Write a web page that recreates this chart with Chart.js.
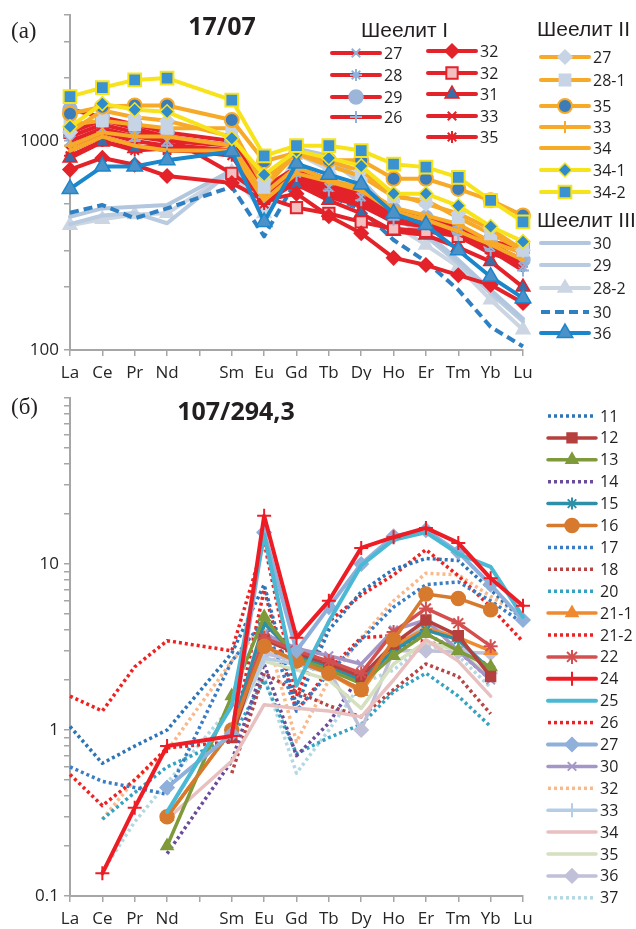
<!DOCTYPE html>
<html>
<head>
<meta charset="utf-8">
<script src="https://cdn.jsdelivr.net/npm/chart.js@4.4.1/dist/chart.umd.min.js"></script>
<style>
  body { margin: 0; background: #fff; width: 636px; height: 929px; position: relative; overflow: hidden; }
  canvas { position: absolute; left: 0; }
  #topChart { top: 0; }
  #botChart { top: 380px; }
</style>
</head>
<body>
<canvas id="topChart" width="636" height="380" style="width:636px;height:380px"></canvas>
<canvas id="botChart" width="636" height="549" style="width:636px;height:549px"></canvas>
<script>
// REE axis, the blank slot is Pm (no data)
var categories = ['La', 'Ce', 'Pr', 'Nd', '', 'Sm', 'Eu', 'Gd', 'Tb', 'Dy', 'Ho', 'Er', 'Tm', 'Yb', 'Lu'];
var topTicks = [100, 200, 300, 500, 1000, 2000, 3000, 4000];
var topTickLabels = ['100', '', '', '', '1000', '', '', ''];
var botTicks = [0.1, 0.2, 0.3, 0.4, 0.5, 0.6, 0.7, 0.8, 0.9, 1, 2, 3, 4, 5, 6, 7, 8, 9, 10, 20, 30, 40, 50, 60, 70, 80, 90, 100];
var botTickLabels = ['0.1', '', '', '', '', '', '', '', '', '1', '', '', '', '', '', '', '', '', '10', '', '', '', '', '', '', '', '', ''];

// (a) 17/07   values La Ce Pr Nd Sm Eu Gd Tb Dy Ho Er Tm Yb Lu
// Шеелит I
var s1_27  = [1000, 1150, 1050, 1000, 950, 560, 700, 600, 540, 440, 420, 370, 310, 250];
var s1_28  = [1050, 1200, 1100, 1050, 950, 580, 720, 620, 560, 450, 430, 390, 330, 260];
var s1_29  = [1420, 1300, 1200, 1100, 1000, 600, 750, 650, 580, 470, 430, 380, 320, 270];
var s1_26  = [950, 1100, 1000, 950, 900, 540, 680, 580, 520, 420, 400, 360, 300, 240];
var s1_32a = [730, 830, 770, 680, 630, 520, 560, 437, 362, 276, 255, 228, 205, 168];
var s1_32b = [1100, 1260, 1150, 1050, 700, 540, 480, 450, 410, 380, 370, 350, 330, 310];
var s1_31  = [830, 990, 920, 960, 900, 540, 620, 520, 450, 370, 355, 310, 265, 200];
var s1_33  = [900, 1050, 950, 900, 880, 520, 660, 560, 500, 410, 400, 360, 300, 260];
var s1_35  = [850, 1000, 900, 920, 850, 500, 640, 540, 490, 410, 390, 350, 290, 260];
// Шеелит II
var s2_27  = [1100, 1400, 1300, 1250, 1050, 650, 880, 800, 720, 560, 500, 450, 380, 300];
var s2_281 = [1200, 1250, 1200, 1150, 1150, 600, 870, 760, 680, 540, 520, 430, 360, 300];
var s2_35  = [1350, 1460, 1480, 1480, 1260, 800, 880, 810, 810, 660, 660, 590, 520, 440];
var s2_33  = [950, 1100, 1050, 1050, 950, 560, 750, 650, 600, 480, 440, 400, 330, 290];
var s2_34  = [900, 1050, 950, 900, 900, 520, 700, 640, 580, 460, 420, 370, 320, 270];
var s2_341 = [1170, 1510, 1410, 1380, 1030, 690, 900, 830, 760, 560, 560, 490, 390, 330];
var s2_342 = [1630, 1800, 1960, 2000, 1570, 850, 950, 950, 900, 775, 750, 670, 520, 410];
// Шеелит III
var s3_30a = [434, 476, 485, 494, 725, 650, 920, 850, 650, 450, 362, 270, 194, 141];
var s3_29  = [400, 440, 452, 404, 720, 600, 900, 810, 630, 435, 350, 260, 187, 137];
var s3_282 = [395, 422, 445, 451, 710, 450, 870, 730, 520, 400, 318, 250, 174, 125];
var s3_30b = [454, 494, 427, 476, 604, 350, 650, 550, 470, 336, 265, 194, 129, 104];
var s3_36  = [590, 755, 755, 810, 890, 410, 780, 690, 620, 450, 396, 300, 224, 177];

// (б) 107/294,3
var b11  = [1.05, 0.63, 0.8, 1.0, 2.9, 7.5, 1.4, 4.0, 6.8, 9.3, 10.8, 10.5, 7.0, 4.6];
var b12  = [null, null, null, null, 0.9, 3.5, 2.9, 2.5, 2.1, 3.3, 4.6, 3.7, 2.1, null];
var b13  = [null, null, null, 0.2, 1.6, 4.8, 2.7, 2.3, 1.9, 2.8, 3.8, 3.0, 2.4, null];
var b14  = [null, null, null, 0.18, 0.65, 2.5, 0.7, 1.1, 2.2, 3.0, 3.8, 3.0, 2.0, null];
var b15  = [null, null, null, null, 1.0, 4.4, 2.8, 2.4, 2.0, 3.0, 4.0, 3.5, 2.3, null];
var b16  = [null, null, null, 0.3, 1.0, 3.2, 2.6, 2.2, 1.75, 3.5, 6.6, 6.2, 5.3, null];
var b17  = [0.6, 0.49, 0.45, 0.41, 2.6, 4.6, 1.3, 2.2, 3.5, 5.5, 7.5, 7.8, 6.0, 4.4];
var b18  = [null, null, null, null, 0.55, 2.2, 1.7, 1.4, 1.2, 1.75, 2.5, 2.1, 1.25, null];
var b20  = [null, 0.29, 0.42, 0.6, 0.9, 2.0, 0.72, 0.9, 1.08, 1.7, 2.2, 1.6, 1.05, null];
var b211 = [null, null, null, 0.3, 1.0, 3.2, 2.6, 2.2, 1.7, 3.2, 4.1, 3.6, 3.0, null];
var b212 = [0.54, 0.35, 0.5, 0.78, 0.85, 7.0, 1.3, 2.3, 3.6, 3.7, 3.4, 3.1, 2.4, null];
var b22  = [null, null, null, null, 0.95, 3.6, 3.0, 2.6, 2.2, 3.9, 5.4, 4.4, 3.2, null];
var b24  = [null, 0.137, 0.34, 0.8, 0.92, 19.5, 3.6, 6.0, 12.5, 14.5, 16.5, 13.4, 8.2, 5.6];
var b25  = [null, null, null, 0.32, 1.4, 15, 1.85, 4.5, 9.8, 14, 15.5, 11.5, 9.6, 4.8];
var b26  = [1.6, 1.3, 2.4, 3.45, 3.0, 13.5, 1.6, 4.5, 6.5, 8.6, 12.2, 8.5, 5.5, 3.4];
var b27  = [null, null, null, 0.45, 0.95, 15.5, 3.0, 5.5, 10, 14.7, 16, 11.8, 7.5, 4.6];
var b30  = [null, null, null, null, 1.0, 3.8, 3.1, 2.8, 2.5, 4.0, 4.6, 3.0, 2.0, null];
var b32  = [null, 0.29, 0.5, 0.75, 2.6, 4.3, 0.85, 2.0, 3.6, 6.0, 8.8, 8.6, 6.4, 4.8];
var b33  = [null, null, null, null, 1.0, 2.7, 2.5, 2.2, 2.0, 3.0, 4.5, 3.4, 2.2, null];
var b34  = [null, null, null, 0.29, 0.65, 1.42, 1.35, 1.3, 1.2, 2.0, 3.5, 2.6, 1.6, null];
var b35  = [null, null, null, null, 1.0, 2.6, 2.3, 2.0, 1.35, 2.5, 3.4, 3.0, 2.1, null];
var b36  = [null, null, null, null, 1.0, 2.9, 2.6, 2.3, 1.0, 3.0, 3.0, 2.95, 2.9, null];
var b37  = [null, 0.14, 0.28, 0.48, 1.4, 2.1, 0.55, 1.0, 1.9, 2.3, 3.3, 2.8, 1.8, null];

// put the empty Pm slot in
function withGap(v) {
  return v.slice(0, 4).concat([null], v.slice(4));
}

function series(label, data, color, o) {
  o = o || {};
  return {
    label: label,
    data: withGap(data),
    borderColor: color,
    backgroundColor: color,
    borderWidth: o.w || 4,
    borderDash: o.dash || [],
    borderCapStyle: o.dash ? 'butt' : 'round',
    borderJoinStyle: 'round',
    pointStyle: o.pt || 'circle',
    pointRadius: o.pt ? (o.r || 6) : 0,
    pointBackgroundColor: o.fill || color,
    pointBorderColor: o.stroke || o.fill || color,
    pointBorderWidth: o.bw || 1.5,
    order: o.order || 5,
    spanGaps: true,
    tension: 0,
    clip: false
  };
}

var RED = '#E3222A', ORG = '#F7A928', YEL = '#F7E31C', LB = '#93B2DA';

var topData = [
  series('27', s1_27, RED, { pt: 'crossRot', stroke: LB, bw: 2, r: 6, order: 6 }),
  series('28', s1_28, RED, { pt: 'star', stroke: LB, bw: 2, r: 6, order: 6 }),
  series('29', s1_29, RED, { pt: 'circle', fill: '#9CB6DA', r: 7, order: 6 }),
  series('26', s1_26, RED, { pt: 'cross', stroke: LB, bw: 2, r: 6, order: 6 }),
  series('32', s1_32a, RED, { pt: 'rectRot', fill: RED, r: 7, order: 6 }),
  series('32', s1_32b, RED, { pt: 'rect', fill: '#F3BFC0', stroke: RED, bw: 2, r: 8, order: 6 }),
  series('31', s1_31, RED, { pt: 'triangle', fill: '#3B6DA6', stroke: RED, bw: 1.5, r: 8, order: 6 }),
  series('33', s1_33, RED, { pt: 'crossRot', stroke: RED, bw: 2, r: 6, order: 6 }),
  series('35', s1_35, RED, { pt: 'star', stroke: RED, bw: 2, r: 6, order: 6 }),

  series('27', s2_27, ORG, { pt: 'rectRot', fill: '#C7D4E6', r: 7, order: 5 }),
  series('28-1', s2_281, ORG, { pt: 'rect', fill: '#C7D4E6', r: 8, order: 5 }),
  series('35', s2_35, ORG, { pt: 'circle', fill: '#3B7CBB', stroke: ORG, bw: 2, r: 7, order: 4 }),
  series('33', s2_33, ORG, { pt: 'cross', stroke: ORG, bw: 2, r: 6, order: 5 }),
  series('34', s2_34, ORG, { order: 5 }),
  series('34-1', s2_341, YEL, { pt: 'rectRot', fill: '#2F8BCB', stroke: YEL, bw: 1.5, r: 7, order: 3 }),
  series('34-2', s2_342, YEL, { pt: 'rect', fill: '#3B92D0', stroke: YEL, bw: 2, r: 9, order: 2 }),

  series('30', s3_30a, '#B2C6DE', { order: 9 }),
  series('29', s3_29, '#B9CBE0', { order: 9 }),
  series('28-2', s3_282, '#CCD6E3', { pt: 'triangle', fill: '#CCD6E3', r: 8, order: 9 }),
  series('30', s3_30b, '#2F80C2', { dash: [9, 5], order: 7 }),
  series('36', s3_36, '#1A86CB', { pt: 'triangle', fill: '#4C92C9', stroke: '#1A86CB', bw: 1.5, r: 9, order: 3 })
];

var DOT = [3, 3];
var botData = [
  series('11', b11, '#2E75B6', { dash: DOT, w: 3.5, order: 8 }),
  series('12', b12, '#B5403D', { pt: 'rect', r: 7, w: 3.5, order: 6 }),
  series('13', b13, '#7F9A3A', { pt: 'triangle', r: 7, w: 3.5, order: 6 }),
  series('14', b14, '#6B4C9A', { dash: DOT, w: 3.5, order: 8 }),
  series('15', b15, '#2E8FA8', { pt: 'star', bw: 2, r: 6, w: 3.5, order: 6 }),
  series('16', b16, '#D77A2D', { pt: 'circle', r: 7, w: 3.5, order: 5 }),
  series('17', b17, '#3A7DC4', { dash: DOT, w: 3.5, order: 8 }),
  series('18', b18, '#B84545', { dash: DOT, w: 3.5, order: 8 }),
  series('20', b20, '#35A3C0', { dash: DOT, w: 3.5, order: 8 }),
  series('21-1', b211, '#F08A30', { pt: 'triangle', r: 7, w: 3.5, order: 6 }),
  series('21-2', b212, '#EE2222', { dash: DOT, w: 3.5, order: 8 }),
  series('22', b22, '#D45050', { pt: 'star', bw: 2, r: 7, w: 3.5, order: 5 }),
  series('24', b24, '#EE1C24', { pt: 'cross', bw: 2, r: 7, w: 4, order: 2 }),
  series('25', b25, '#4BB8D4', { w: 4, order: 3 }),
  series('26', b26, '#EE2222', { dash: DOT, w: 3.5, order: 8 }),
  series('27', b27, '#8FB0DA', { pt: 'rectRot', r: 7, w: 4, order: 3 }),
  series('30', b30, '#A596C8', { pt: 'crossRot', bw: 2, r: 6, w: 3.5, order: 6 }),
  series('32', b32, '#F9B98A', { dash: DOT, w: 3.5, order: 8 }),
  series('33', b33, '#B5CDE5', { pt: 'cross', bw: 2, r: 7, w: 3.5, order: 6 }),
  series('34', b34, '#E8C0C0', { w: 3.5, order: 6 }),
  series('35', b35, '#D4E0BE', { w: 3.5, order: 6 }),
  series('36', b36, '#C0C0D8', { pt: 'rectRot', r: 7, w: 3.5, order: 6 }),
  series('37', b37, '#B3D8E3', { dash: DOT, w: 3.5, order: 8 })
];

// same shapes as chart.js point styles, for the legend samples
function drawMarker(ctx, ds, x, y) {
  var r = ds.pointRadius, s, c;
  if (!r) return;
  ctx.save();
  ctx.setLineDash([]);
  ctx.fillStyle = ds.pointBackgroundColor;
  ctx.strokeStyle = ds.pointBorderColor;
  ctx.lineWidth = ds.pointBorderWidth;
  ctx.beginPath();
  switch (ds.pointStyle) {
    case 'circle':
      ctx.arc(x, y, r, 0, Math.PI * 2);
      break;
    case 'rect':
      s = r * Math.SQRT1_2;
      ctx.rect(x - s, y - s, 2 * s, 2 * s);
      break;
    case 'rectRot':
      ctx.moveTo(x - r, y); ctx.lineTo(x, y - r); ctx.lineTo(x + r, y); ctx.lineTo(x, y + r); ctx.closePath();
      break;
    case 'triangle':
      ctx.moveTo(x, y - r);
      ctx.lineTo(x + r * 0.866, y + r * 0.5);
      ctx.lineTo(x - r * 0.866, y + r * 0.5);
      ctx.closePath();
      break;
    case 'cross':
    case 'crossRot':
    case 'star':
      c = r * Math.SQRT1_2;
      if (ds.pointStyle !== 'crossRot') {
        ctx.moveTo(x, y - r); ctx.lineTo(x, y + r); ctx.moveTo(x - r, y); ctx.lineTo(x + r, y);
      }
      if (ds.pointStyle !== 'cross') {
        ctx.moveTo(x - c, y - c); ctx.lineTo(x + c, y + c); ctx.moveTo(x + c, y - c); ctx.lineTo(x - c, y + c);
      }
      ctx.stroke();
      ctx.restore();
      return;
  }
  ctx.fill();
  ctx.stroke();
  ctx.restore();
}

// legend with group headers + panel titles, drawn after the chart
var panelLegend = {
  id: 'panelLegend',
  afterDraw: function(chart, args, opts) {
    var ctx = chart.ctx;
    ctx.save();
    ctx.textBaseline = 'middle';
    ctx.fillStyle = '#231F20';
    opts.texts.forEach(function(t) {
      ctx.font = t.font;
      ctx.textAlign = t.align || 'left';
      ctx.fillText(t.text, t.x, t.y);
    });
    ctx.textAlign = 'left';
    ctx.font = '16px "Open Sans"';
    opts.items.forEach(function(it) {
      var ds = chart.data.datasets[it.i];
      ctx.save();
      ctx.strokeStyle = ds.borderColor;
      ctx.lineWidth = ds.borderWidth;
      ctx.setLineDash(ds.borderDash);
      ctx.lineCap = ds.borderDash.length ? 'butt' : 'round';
      ctx.beginPath();
      ctx.moveTo(it.x, it.y);
      ctx.lineTo(it.x + it.len, it.y);
      ctx.stroke();
      ctx.restore();
      drawMarker(ctx, ds, it.x + it.len / 2, it.y);
      ctx.fillStyle = '#231F20';
      ctx.fillText(ds.label, it.x + it.len + 4, it.y + 1);
    });
    ctx.restore();
  }
};

function axisOpts(fit) {
  return {
    grid: { display: true, drawOnChartArea: false, drawTicks: true, tickLength: 6, color: '#A6A6A6', lineWidth: 1.5 },
    border: { display: true, color: '#A6A6A6', width: 2 },
    afterFit: fit
  };
}

function makeChart(id, datasets, yMin, yMax, yTicks, yLabels, padTop, xHeight, legend) {
  var x = axisOpts(function(s) { s.height = xHeight; });
  x.type = 'category';
  x.offset = false;
  x.ticks = { autoSkip: false, maxRotation: 0, padding: 7, color: '#262626', font: { family: 'Open Sans', size: 17 } };

  var y = axisOpts(function(s) { s.width = 70; });
  y.type = 'logarithmic';
  y.min = yMin;
  y.max = yMax;
  y.afterBuildTicks = function(s) {
    s.ticks = yTicks.map(function(v) { return { value: v }; });
  };
  y.ticks = {
    autoSkip: false,
    padding: 5, color: '#262626', font: { family: 'Open Sans', size: 17 },
    callback: function(v) {
      var i = yTicks.indexOf(v);
      return i >= 0 ? yLabels[i] : '';
    }
  };

  return new Chart(document.getElementById(id), {
    type: 'line',
    data: { labels: categories, datasets: datasets },
    options: {
      responsive: false,
      animation: false,
      layout: { padding: { top: padTop, right: 113, left: 0, bottom: 0 } },
      plugins: { legend: { display: false }, tooltip: { enabled: false }, panelLegend: legend },
      scales: { x: x, y: y }
    },
    plugins: [panelLegend]
  });
}

// legend layout (a)
var topItems = [];
[[53, 75, 97, 117].map(function(yy, k) { return { i: k, x: 332, y: yy }; }),
 [51, 73, 94, 116, 137].map(function(yy, k) { return { i: 4 + k, x: 428, y: yy }; }),
 [57, 80, 106, 127, 148, 170, 192].map(function(yy, k) { return { i: 9 + k, x: 541, y: yy }; }),
 [243, 265, 288, 312, 333].map(function(yy, k) { return { i: 16 + k, x: 541, y: yy }; })
].forEach(function(col) {
  col.forEach(function(it) { it.len = 48; topItems.push(it); });
});

makeChart('topChart', topData, 100, 4000, topTicks, topTickLabels, 15, 30, {
  texts: [
    { text: '(a)', x: 11, y: 32, font: '23px "Liberation Serif"' },
    { text: '17/07', x: 222, y: 28, font: 'bold 25px "Open Sans"', align: 'center' },
    { text: 'Шеелит I', x: 361, y: 31, font: '21px "Liberation Sans"' },
    { text: 'Шеелит II', x: 537, y: 30, font: '21px "Liberation Sans"' },
    { text: 'Шеелит III', x: 537, y: 221, font: '21px "Liberation Sans"' }
  ],
  items: topItems
});

// legend layout (б)
var botItems = botData.map(function(ds, k) {
  return { i: k, x: 548, y: 36 + k * 21.9, len: 48 };
});

makeChart('botChart', botData, 0.1, 100, botTicks, botTickLabels, 18, 33, {
  texts: [
    { text: '(б)', x: 11, y: 28, font: '23px "Liberation Serif"' },
    { text: '107/294,3', x: 236, y: 33, font: 'bold 25px "Open Sans"', align: 'center' }
  ],
  items: botItems
});
</script>
</body>
</html>
